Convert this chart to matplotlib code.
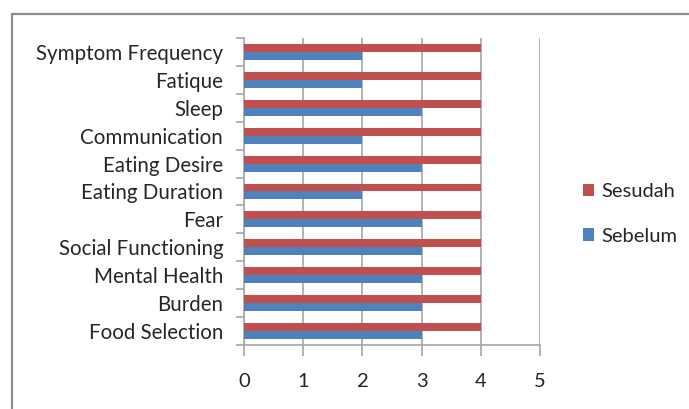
import matplotlib
matplotlib.use("Agg")
import matplotlib.pyplot as plt
from matplotlib.patches import Rectangle
import numpy as np

# categories listed bottom to top, as on the chart
categories = ["Food Selection", "Burden", "Mental Health", "Social Functioning",
              "Fear", "Eating Duration", "Eating Desire", "Communication",
              "Sleep", "Fatique", "Symptom Frequency"]
sebelum = [3, 3, 3, 3, 3, 2, 3, 2, 3, 2, 2]
sesudah = [4, 4, 4, 4, 4, 4, 4, 4, 4, 4, 4]
x_ticks = [0, 1, 2, 3, 4, 5]

RED = "#C0504D"
BLUE = "#4F81BD"
GRID = "#A6A6A6"

plt.rcParams['font.family'] = ['Lato', 'DejaVu Sans']

fig = plt.figure(figsize=(6.89, 4.09), dpi=100)
ax = fig.add_axes([244/689, 1 - 345/409, (540 - 244)/689, (345 - 38)/409])

# chart border (runs off the right and bottom of the image)
fig.patches.append(Rectangle((12/689, -0.1), 1.2, 1 - 14/409 + 0.1,
                             transform=fig.transFigure, fill=False,
                             edgecolor="#8C8C8C", linewidth=1.6))

y = np.arange(len(categories))
h = 0.286
ax.barh(y - h/2, sebelum, height=h, color=BLUE, label="Sebelum", zorder=3)
ax.barh(y + h/2, sesudah, height=h, color=RED, label="Sesudah", zorder=3)

ax.set_xlim(0, 5)
ax.set_ylim(-0.5, len(categories) - 0.5)
ax.set_xticks(x_ticks)
ax.grid(axis="x", color=GRID, linewidth=1.2, zorder=0)

ax.set_yticks(y)
ax.set_yticklabels(categories)
ax.set_yticks(np.arange(len(categories) + 1) - 0.5, minor=True)
ax.tick_params(axis="y", which="major", length=0, pad=15, labelsize=14.8, labelcolor="#262626")
ax.tick_params(axis="y", which="minor", length=6, color=GRID, width=1.2)
ax.tick_params(axis="x", length=8, color=GRID, width=1.2, pad=12.5, labelsize=14.5, labelcolor="#262626")

for side in ["top", "right"]:
    ax.spines[side].set_visible(False)
for side in ["left", "bottom"]:
    ax.spines[side].set_color(GRID)
    ax.spines[side].set_linewidth(1.2)

handles, labels = ax.get_legend_handles_labels()
fig.legend(handles[::-1], labels[::-1], loc="center left",
           bbox_to_anchor=(565/689, 1 - 214/409), frameon=False,
           fontsize=14.5, labelcolor="#262626", handlelength=0.55, handleheight=0.55,
           handletextpad=0.35, labelspacing=1.35)

fig.savefig("out.png", dpi=100)
